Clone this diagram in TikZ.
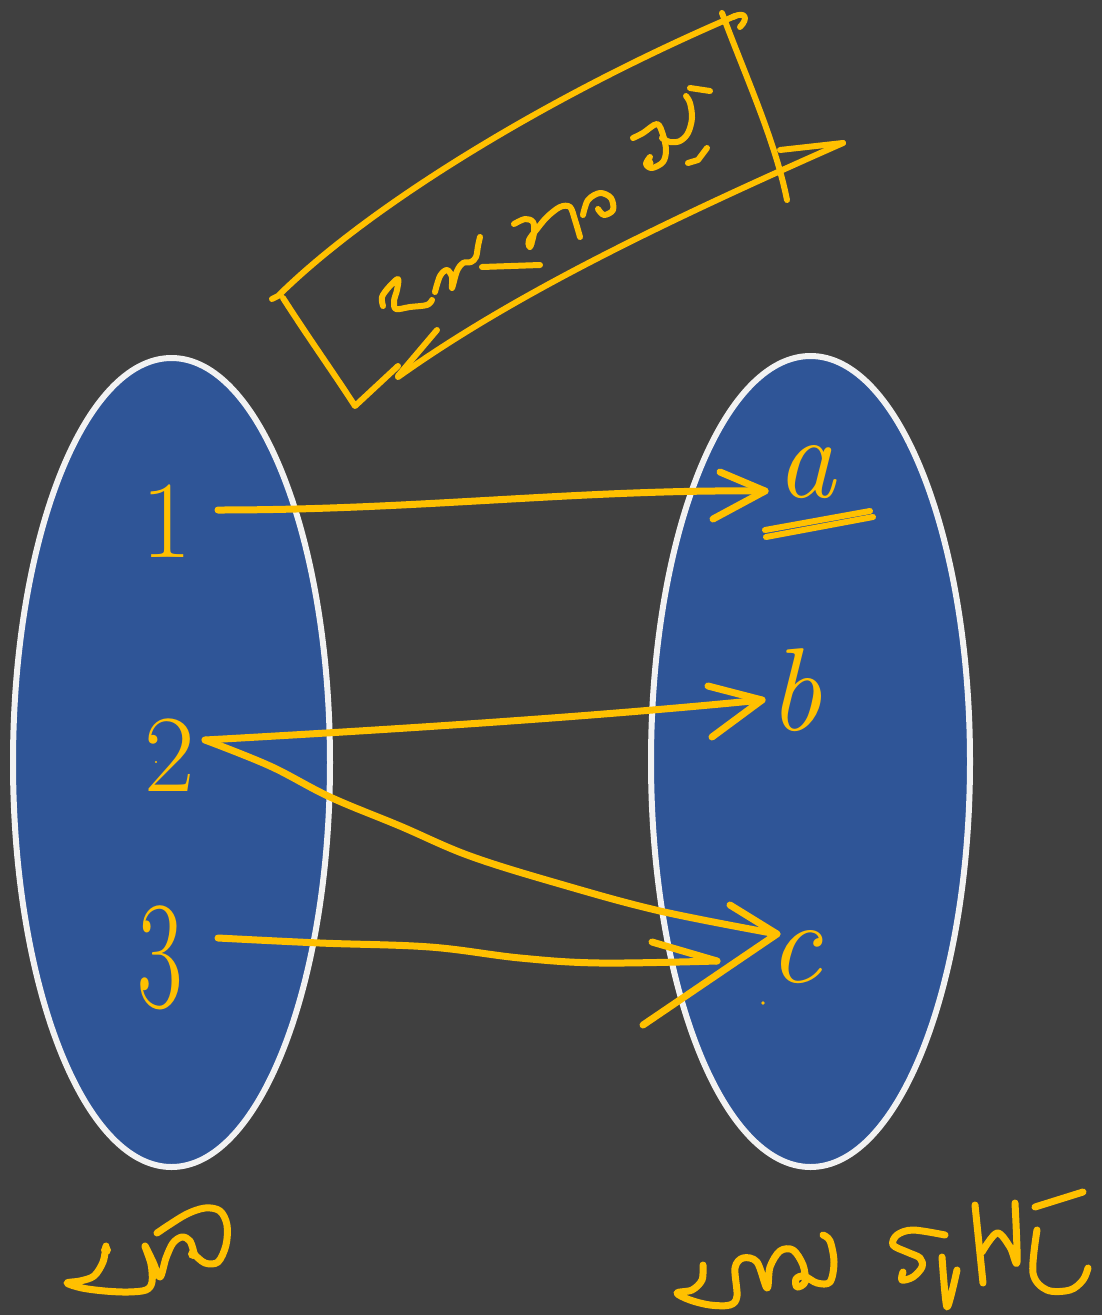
\documentclass[tikz,border=0pt]{standalone}
\usepackage{fontspec}
\usetikzlibrary{shapes.geometric}
\definecolor{bgc}{HTML}{404040}
\definecolor{setc}{HTML}{2F5597}
\definecolor{rimc}{HTML}{F2F2F2}
\definecolor{penc}{HTML}{FFC000}
\begin{document}
\begin{tikzpicture}[x=1pt,y=-1pt,
  setoval/.style={ellipse, fill=setc, draw=rimc, line width=6pt, inner sep=0pt, outer sep=0pt},
  ink/.style={draw=penc, line width=7pt, line cap=round, line join=round},
  thin ink/.style={ink, line width=6pt},
  lbl/.style={text=penc, inner sep=0pt, font=\fontsize{110}{110}\selectfont},
  ilbl/.style={text=penc, inner sep=0pt, font=\fontsize{118}{118}\selectfont\itshape},
  dot/.style={fill=penc}]

% canvas
\fill[bgc] (0,0) rectangle (1102,1315);
\useasboundingbox (0,0) rectangle (1102,1315);

% the two sets
\node[setoval, minimum width=317pt, minimum height=809pt] (dom) at (171.5,762.5) {};
\node[setoval, minimum width=319pt, minimum height=811pt] (cod) at (810.5,761.5) {};

% elements
\node[lbl] (n1) at (167,521) {1};
\node[lbl] (n2) at (170,755) {2};
\node[lbl] (n3) at (160,958) {\scalebox{0.9}[1.4]{3}};
\node[ilbl] (la) at (806,472) {a};
\node[ilbl] (lb) at (795,690) {b};
\node[ilbl] (lc) at (795,957) {c};

% double underline below a
\draw[thin ink] (765,530) -- (870,511);
\draw[thin ink] (766,537) -- (873,517);

% arrow ends
\coordinate (s1) at (218,510);
\coordinate (ta) at (765,491);
\coordinate (s2) at (205,740);
\coordinate (tb) at (762,700);
\coordinate (tc) at (777,934);
\coordinate (s3) at (218,938);
\coordinate (tc3) at (717,961);
\coordinate (tail) at (643,1025);

% 1 -> a
\draw[ink] (s1) .. controls (420,510) and (580,489) .. (ta);
\draw[ink] ([shift={(-45,-19)}]ta) -- (ta) -- ([shift={(-52,28)}]ta);

% 2 -> b
\draw[ink] (s2) .. controls (420,728) and (600,716) .. (tb);
\draw[ink] ([shift={(-54,-14)}]tb) -- (tb) -- ([shift={(-50,37)}]tb);

% 2 -> c
\draw[ink] plot[smooth, tension=0.6] coordinates {(s2) (270,766) (330,797) (400,826) (470,856) (560,884) (660,911) (tc)};
\draw[ink] ([shift={(-47,-29)}]tc) -- (tc) -- (tail);

% 3 -> c
\draw[ink] plot[smooth, tension=0.6] coordinates {(s3) (320,943) (430,947) (520,958) (600,963) (tc3)};
\draw[ink] ([shift={(-65,-19)}]tc3) -- (tc3);

% stray specks
\fill[dot] (763,1003) circle (1.8);
\fill[dot] (156,762) circle (1.2);

% banner arrow at the top
\draw[thin ink] (272,299) -- (278,296) .. controls (370,205) and (550,95) .. (735,16);
\draw[thin ink] (733,17) .. controls (745,11) and (749,18) .. (740,27);
\draw[thin ink] (722,13) .. controls (745,75) and (775,140) .. (787,200);
\draw[thin ink] (283,298) .. controls (310,340) and (333,372) .. (355,406) -- (398,366);
\draw[thin ink] (437,330) -- (398,376);
\draw[thin ink] (398,377) .. controls (520,290) and (680,215) .. (843,143);
\draw[thin ink] (780,150) -- (843,143);

% handwriting inside the banner
\draw[thin ink] plot[smooth, tension=0.55] coordinates {(383,306) (382,297) (389,287) (398,279) (397,290) (394,301) (396,309) (410,307) (427,305) (432,300)};
\draw[thin ink] plot[smooth, tension=0.55] coordinates {(435,292) (440,276) (447,270) (452,277) (452,288) (457,271) (463,263) (471,262) (476,257) (478,246) (480,237)};
\draw[thin ink] (482,267) -- (540,265);
\draw[thin ink] plot[smooth, tension=0.55] coordinates {(514,224) (525,219) (533,222) (534,233) (530,247) (529,240) (537,229) (547,217) (560,207) (570,207) (575,220) (580,237)};
\draw[thin ink] plot[smooth, tension=0.55] coordinates {(583,215) (588,200) (600,193) (611,198) (613,210) (604,215) (598,209)};
\fill[dot] (530,244) circle (4.5);
\draw[thin ink] plot[smooth, tension=0.55] coordinates {(633,138) (643,133) (657,124) (663,135) (666,150) (663,162) (652,168) (646,164) (650,157)};
\fill[dot] (649,163) circle (4.5);
\draw[thin ink] plot[smooth, tension=0.55] coordinates {(662,138) (670,142) (680,141) (688,133) (692,118) (690,103) (686,96)};
\draw[thin ink] (690,88) -- (710,91);
\draw[thin ink] (688,163) -- (698,160) -- (707,148);

% handwriting below the left set
\draw[ink] plot[smooth, tension=0.55] coordinates {(106,1246) (103,1262) (94,1276) (80,1281) (67,1283) (82,1288) (105,1291) (128,1292) (146,1290) (152,1282) (151,1264) (145,1246) (153,1262) (160,1277) (166,1258) (173,1243) (182,1237) (190,1241) (194,1253)};
\draw[ink] plot[smooth, tension=0.55] coordinates {(194,1254) (205,1263) (218,1262) (226,1245) (227,1225) (220,1211) (205,1208) (185,1215) (157,1233)};
\fill[dot] (106,1250) circle (5);
\fill[dot] (193,1254) circle (5);

% handwriting below the right set
\draw[ink] plot[smooth, tension=0.55] coordinates {(703,1265) (702,1280) (692,1290) (677,1293) (690,1300) (710,1305) (730,1305) (737,1296) (735,1268) (743,1258) (757,1262) (767,1288) (770,1267) (780,1251) (793,1250) (803,1265) (805,1282) (797,1287) (796,1279) (804,1276) (817,1283) (830,1282) (834,1262) (830,1241) (823,1235)};
\draw[ink] plot[smooth, tension=0.55] coordinates {(945,1235) (913,1230) (897,1235) (893,1245) (907,1252) (920,1258) (922,1267) (913,1277) (902,1280) (903,1272)};
\draw[ink] plot[smooth, tension=0.4] coordinates {(942,1257) (947,1307) (957,1270)};
\draw[ink] (975,1205) -- (983,1283);
\draw[ink] plot[smooth, tension=0.55] coordinates {(982,1252) (997,1233) (1010,1247) (1017,1262) (1015,1203)};
\draw[ink] plot[smooth, tension=0.55] coordinates {(1037,1230) (1033,1273) (1047,1290) (1070,1290) (1083,1280) (1088,1268)};
\draw[ink] (1035,1207) -- (1083,1192);
\end{tikzpicture}
\end{document}
